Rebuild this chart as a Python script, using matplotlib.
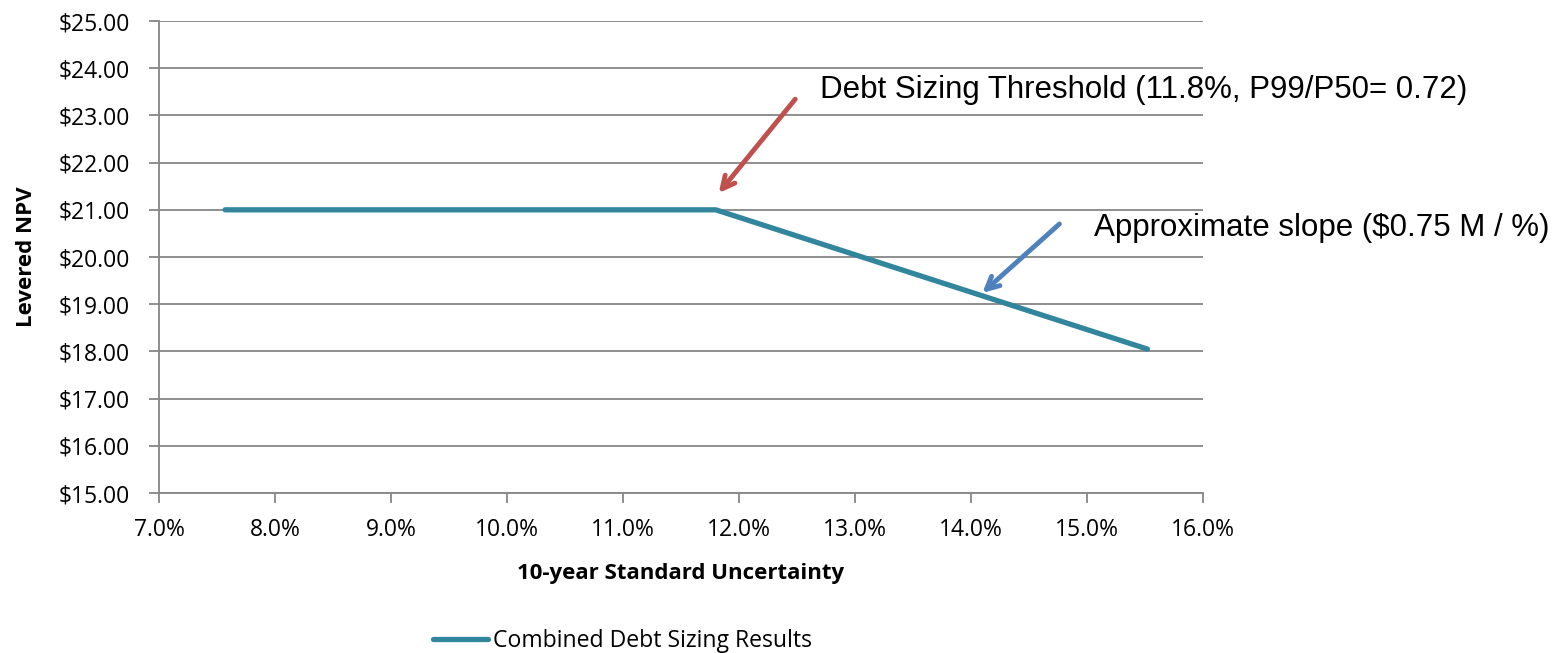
import matplotlib.pyplot as plt
from matplotlib.ticker import FuncFormatter, MultipleLocator

# Debt sizing sweep: NPV vs. 10-year standard uncertainty
uncertainty = [7.57, 11.8, 15.52]
levered_npv = [21.0, 21.0, 18.05]

threshold_tip = (11.81, 21.31)
threshold_tail = (12.5, 23.39)
slope_tip = (14.08, 19.2)
slope_tail = (14.78, 20.74)

TEAL = '#31859C'
GRID = '#868686'

fig = plt.figure(figsize=(15.63, 6.53), dpi=100)
ax = fig.add_axes([0.1017, 0.245, 0.668, 0.7228])

ax.plot(uncertainty, levered_npv, color=TEAL, lw=3.8, solid_capstyle='round',
        solid_joinstyle='round', label='Combined Debt Sizing Results', zorder=3)

ax.set_xlim(7, 16)
ax.set_ylim(15, 25)
ax.xaxis.set_major_locator(MultipleLocator(1))
ax.yaxis.set_major_locator(MultipleLocator(1))
ax.xaxis.set_major_formatter(FuncFormatter(lambda v, p: f'{v:.1f}%'))
ax.yaxis.set_major_formatter(FuncFormatter(lambda v, p: f'${v:.2f}'))

ax.grid(axis='y', color=GRID, lw=1.3)
ax.set_axisbelow(True)
for side in ['top', 'right']:
    ax.spines[side].set_visible(False)
for side in ['left', 'bottom']:
    ax.spines[side].set_color(GRID)
    ax.spines[side].set_linewidth(1.3)
ax.tick_params(axis='both', colors=GRID, length=7, width=1.3, labelcolor='black',
               labelsize=16.5)
ax.tick_params(axis='x', pad=11)
ax.tick_params(axis='y', pad=14)
for lbl in ax.get_xticklabels() + ax.get_yticklabels():
    lbl.set_family('Open Sans')

ax.set_ylabel('Levered NPV', fontsize=16, fontweight='bold', family='Open Sans')
ax.yaxis.set_label_coords(-0.117, 0.5)
ax.set_xlabel('10-year Standard Uncertainty', fontsize=16, fontweight='bold',
              family='Open Sans')
ax.xaxis.set_label_coords(0.5, -0.148)

# callouts
ax.annotate('', xy=threshold_tip, xytext=threshold_tail,
            arrowprops=dict(arrowstyle='->,head_length=0.9,head_width=0.45',
                            color='#C0504D', lw=3.5))
ax.annotate('', xy=slope_tip, xytext=slope_tail,
            arrowprops=dict(arrowstyle='->,head_length=0.9,head_width=0.45',
                            color='#4F81BD', lw=3.5))
ax.text(12.70, 23.37, 'Debt Sizing Threshold (11.8%, P99/P50= 0.72)',
        fontsize=22.5, family='Liberation Sans', va='baseline', ha='left')
ax.text(15.06, 20.445, 'Approximate slope ($0.75 M / %)',
        fontsize=22.5, family='Liberation Sans', va='baseline', ha='left')

leg = fig.legend(loc='center', bbox_to_anchor=(0.398, 0.018), frameon=False,
                 prop={'family': 'Open Sans', 'size': 16.6}, handlelength=2.4,
                 handletextpad=0.2)

fig.savefig('out.png', dpi=100)
